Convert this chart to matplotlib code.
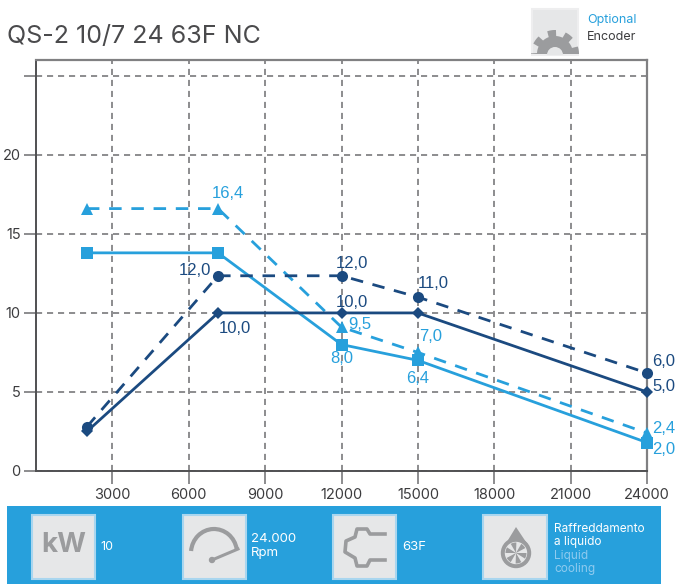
import numpy as np
import matplotlib
matplotlib.use('Agg')
import matplotlib.pyplot as plt
from matplotlib.patches import Rectangle, Polygon, Circle, Arc, Wedge

# values
rpm = [2000, 7150, 12000, 15000, 24000]
kw_s6 = [2.5, 10.0, 10.0, 10.0, 5.0]
kw_s1 = [2.8, 12.35, 12.35, 11.0, 6.2]
nm_s6 = [13.8, 13.8, 8.0, 7.0, 1.8]
nm_s1 = [16.6, 16.6, 9.1, 7.5, 2.4]

x_ticks = [3000, 6000, 9000, 12000, 15000, 18000, 21000, 24000]
y_ticks = [0, 5, 10, 15, 20, 25]
y_labels = ['0', '5', '10', '15', '20', '']

kw_s6_labels = ['', '10,0', '10,0', '', '5,0']
kw_s1_labels = ['', '12,0', '12,0', '11,0', '6,0']
nm_s6_labels = ['', '', '8,0', '6,4', '2,0']
nm_s1_labels = ['', '16,4', '9,5', '7,0', '2,4']

# label offsets from the marker, in pixels
kw_s6_off = [None, (17, -16), (10, 10), None, (17, 5)]
kw_s1_off = [None, (-23, 5), (10, 12), (15, 14), (17, 11)]
nm_s6_off = [None, None, (0, -14), (0, -18), (17, -7)]
nm_s1_off = [None, (10, 15), (18, 3), (13, 16), (17, 5)]

NAVY = '#1b4a80'
CYAN = '#27a0dc'
GRID = '#6d6e70'
TEXT = '#3c3c3e'
PANEL = '#e6e7e8'
ICON = '#9b9c9e'
BORDER = '#a9d6ef'

plt.rcParams['font.family'] = ['Inter', 'DejaVu Sans']

fig = plt.figure(figsize=(6.75, 5.84), dpi=100)
ax = fig.add_axes([36 / 675, 113 / 584, 611 / 675, 411 / 584])

ax.plot(rpm, kw_s1, color=NAVY, lw=2, ls=(0, (4.5, 3.5)), marker='o', ms=8, mew=0, clip_on=False, zorder=4)
ax.plot(rpm, kw_s6, color=NAVY, lw=2, marker='D', ms=6, mew=0, clip_on=False, zorder=4)
ax.plot(rpm, nm_s1, color=CYAN, lw=2, ls=(0, (4.5, 3.5)), marker='^', ms=8.5, mew=0, clip_on=False, zorder=3)
ax.plot(rpm, nm_s6, color=CYAN, lw=2, marker='s', ms=8, mew=0, clip_on=False, zorder=3)

ax.set_xlim(0, 24000)
ax.set_ylim(0, 26)
ax.set_xticks(x_ticks)
ax.set_yticks(y_ticks)
ax.set_yticklabels(y_labels)
ax.grid(True, color=GRID, lw=1.1, ls=(0, (4, 3.2)))
ax.set_axisbelow(True)
ax.tick_params(length=9, width=1.1, color=GRID, labelcolor=TEXT, labelsize=10.5, pad=2)
ax.tick_params(axis='x', pad=3)
for name in ['left', 'bottom']:
    ax.spines[name].set_color('#505052')
    ax.spines[name].set_linewidth(1.4)
for name in ['top', 'right']:
    ax.spines[name].set_color('#808082')
    ax.spines[name].set_linewidth(1.6)

def put_labels(xs, ys, labels, offsets, color):
    for x, y, lab, off in zip(xs, ys, labels, offsets):
        if lab:
            ax.annotate(lab, (x, y), xytext=off, textcoords='offset pixels', ha='center', va='center',
                        color=color, fontsize=12, family=['Liberation Sans'], annotation_clip=False, zorder=6)

put_labels(rpm, kw_s1, kw_s1_labels, kw_s1_off, NAVY)
put_labels(rpm, kw_s6, kw_s6_labels, kw_s6_off, NAVY)
put_labels(rpm, nm_s1, nm_s1_labels, nm_s1_off, CYAN)
put_labels(rpm, nm_s6, nm_s6_labels, nm_s6_off, CYAN)

# decoration layer in picture pixels
deco = fig.add_axes([0, 0, 1, 1], facecolor='none')
deco.set_xlim(0, 675)
deco.set_ylim(584, 0)
deco.axis('off')

deco.text(7, 37, 'QS-2 10/7 24 63F NC', fontsize=18, color='#4a4a4c', va='center')
deco.add_patch(Rectangle((7, 506), 654, 78, color=CYAN, lw=0))

def icon_box(x, y, w, h, edge):
    deco.add_patch(Rectangle((x, y), w, h, fc=PANEL, ec=edge, lw=1.5))

# encoder box and gear
icon_box(532, 9, 46, 46, '#eeeeef')
th = np.linspace(np.pi, 0, 120)
r = 21 + 3 * np.sign(np.sin(th * 8 + 0.4))
gx = 555 + r * np.cos(th)
gy = 54 - r * np.sin(th)
deco.add_patch(Polygon(np.column_stack([gx, gy]), fc=ICON, lw=0))
deco.add_patch(Wedge((555, 55), 8, 180, 360, fc=PANEL, lw=0))
deco.text(587, 20, 'Optional', color=CYAN, fontsize=9, va='center')
deco.text(587, 37, 'Encoder', color=TEXT, fontsize=9, va='center')

# kW
icon_box(32, 515, 63, 64, BORDER)
deco.text(64, 545, 'kW', color=ICON, fontsize=20, fontweight='bold', ha='center', va='center')
deco.text(100, 547, '10', color='white', fontsize=9, va='center')

# gauge
icon_box(183, 515, 63, 64, BORDER)
deco.add_patch(Arc((214, 553), 46, 48, theta1=185, theta2=350, color=ICON, lw=3))
deco.plot([212, 238], [560, 549], color=ICON, lw=2.2)
deco.add_patch(Circle((212, 560), 2.5, color=ICON))
deco.text(251, 539, '24.000', color='white', fontsize=9.5, va='center')
deco.text(251, 553, 'Rpm', color='white', fontsize=9.5, va='center')

# flange
icon_box(333, 515, 63, 64, BORDER)
flange_x = [385, 370, 367, 357, 355, 346, 345, 355, 357, 367, 370, 385]
flange_y = [534, 534, 529, 529, 537, 541, 552, 558, 566, 566, 560, 560]
deco.plot(flange_x, flange_y, color=ICON, lw=2.6, solid_joinstyle='round')
deco.text(402, 547, '63F', color='white', fontsize=9.5, va='center')

# drop with fan
icon_box(483, 515, 64, 64, BORDER)
deco.add_patch(Polygon([(516, 527), (505, 545), (528, 545)], fc=ICON, lw=0))
deco.add_patch(Circle((516, 553), 14.5, color=ICON))
deco.add_patch(Circle((516, 553), 10.5, color=PANEL))
for a in range(0, 360, 60):
    deco.add_patch(Wedge((516, 553), 10.5, a, a + 32, fc=ICON, lw=0))

deco.text(554, 529, 'Raffreddamento', color='white', fontsize=8.5, va='center')
deco.text(554, 542, 'a liquido', color='white', fontsize=8.5, va='center')
deco.text(554, 556, 'Liquid', color='#8fcbef', fontsize=8.5, va='center')
deco.text(554, 569, 'cooling', color='#8fcbef', fontsize=8.5, va='center')

fig.savefig('out.png', dpi=100)
